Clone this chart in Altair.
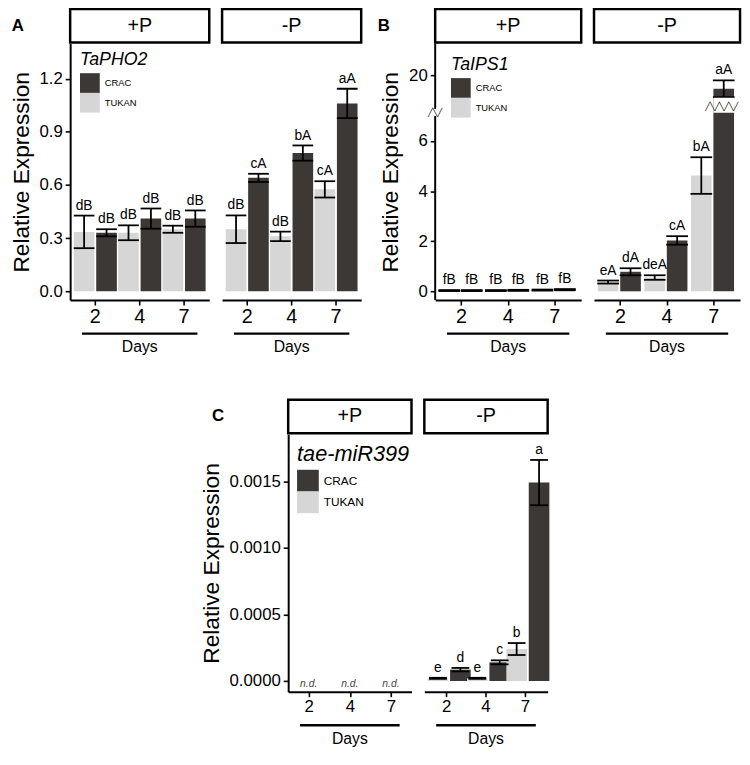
import altair as alt
import pandas as pd

FONT = "Liberation Sans"
DARK = "#3b3835"
LIGHT = "#d6d6d6"

# ---------------- data ----------------
days = ["2", "4", "7"]
day_seq = ["2", "2", "4", "4", "7", "7"]
cult_seq = ["TUKAN", "CRAC", "TUKAN", "CRAC", "TUKAN", "CRAC"]
cultivars = ["CRAC", "TUKAN"]

# A: TaPHO2
a_plus_mean = [0.335, 0.33, 0.33, 0.41, 0.35, 0.41]
a_plus_se = [0.092, 0.02, 0.042, 0.057, 0.02, 0.046]
a_plus_lab = ["dB", "dB", "dB", "dB", "dB", "dB"]
a_minus_mean = [0.35, 0.64, 0.31, 0.78, 0.575, 1.06]
a_minus_se = [0.078, 0.023, 0.027, 0.043, 0.046, 0.083]
a_minus_lab = ["dB", "cA", "dB", "bA", "cA", "aA"]

# B: TaIPS1
b_plus_mean = [0.03, 0.03, 0.03, 0.04, 0.05, 0.07]
b_plus_se = [0.02, 0.02, 0.02, 0.02, 0.02, 0.02]
b_plus_lab = ["fB", "fB", "fB", "fB", "fB", "fB"]
b_minus_mean = [0.37, 0.78, 0.55, 2.03, 4.62, 17.3]
b_minus_se = [0.06, 0.14, 0.09, 0.17, 0.73, 1.7]
b_minus_lab = ["eA", "dA", "deA", "cA", "bA", "aA"]
b_ticks = [0, 2, 4, 6, 20]
b_domain = [-0.35, 7.13, 15.46, 26.46]   # broken axis: lower / upper segment
b_axis_lo = [-0.35, 9.2]
b_axis_hi = [7.0, 26.46]

# C: tae-miR399
c_plus_lab = ["n.d.", "n.d.", "n.d."]
c_plus_level = [0, 0, 0]
c_minus_mean = [0.00002, 0.000085, 0.00002, 0.00014, 0.00024, 0.00149]
c_minus_se = [0.000004, 0.000013, 0.000004, 0.000015, 0.000045, 0.00017]
c_minus_lab = ["e", "d", "e", "c", "b", "a"]


def frame(mean, se, lab):
    return pd.DataFrame({
        "day": day_seq, "cultivar": cult_seq, "mean": mean,
        "lo": [m - s for m, s in zip(mean, se)],
        "hi": [m + s for m, s in zip(mean, se)],
        "label": lab})


cscale = alt.Scale(domain=cultivars, range=[DARK, LIGHT])


def xaxis(size):
    return alt.Axis(title=None, labelAngle=0, labelFontSize=size, labelFont=FONT,
                    labelColor="black", domainColor="black", domainWidth=2,
                    tickColor="black", tickWidth=1.6, tickSize=5, labelPadding=2,
                    grid=False)


def yaxis(values, fmt, size, domain=True):
    return alt.Axis(title="Relative Expression", titleFontSize=23, titleFontWeight="normal",
                    titleFont=FONT, titleColor="black", titlePadding=6, values=values,
                    format=fmt, labelFontSize=size, labelFont=FONT, labelColor="black",
                    domain=domain, domainColor="black", domainWidth=2, tickColor="black",
                    tickWidth=1.6, tickSize=5, labelPadding=3, grid=False)


def legend(title, x, y, tsize, ssize, lsize):
    return alt.Legend(orient="none", legendX=x, legendY=y, title=title,
                      titleFontStyle="italic", titleFontWeight="normal", titleFontSize=tsize,
                      titleFont=FONT, titleColor="black", titlePadding=4,
                      symbolType="square", symbolSize=ssize, symbolStrokeWidth=0,
                      symbolOpacity=1, labelFontSize=lsize, labelFont=FONT,
                      labelColor="black", labelOffset=5, rowPadding=0, padding=0)


def panel(df, W, H, yscale, yax, cap, header, xsize, leg=None, letter=None, letter_x=-53,
          extra=None, nd=None):
    X = alt.X("day:N", scale=alt.Scale(domain=days, paddingInner=0, paddingOuter=0.067),
              axis=xaxis(xsize))
    XO = alt.XOffset("cultivar:N", scale=alt.Scale(domain=["TUKAN", "CRAC"],
                                                   paddingInner=0.08, paddingOuter=0.03))

    def Y(f):
        return alt.Y(f, type="quantitative", scale=yscale, axis=yax)

    layers = []
    if df is not None:
        base = alt.Chart(df)
        layers += [
            base.mark_bar().encode(
                x=X, xOffset=XO, y=Y("mean"),
                color=alt.Color("cultivar:N", scale=cscale, legend=leg)),
            base.mark_rule(color="black", strokeWidth=1.8).encode(
                x=X, xOffset=XO, y=Y("lo"), y2=alt.Y2("hi")),
            base.mark_tick(color="black", thickness=1.8, size=cap, opacity=1).encode(
                x=X, xOffset=XO, y=Y("lo")),
            base.mark_tick(color="black", thickness=1.8, size=cap, opacity=1).encode(
                x=X, xOffset=XO, y=Y("hi")),
            base.mark_text(fontSize=14, font=FONT, baseline="alphabetic", dy=-6,
                           color="black").encode(
                x=X, xOffset=XO, y=Y("hi"), text="label:N"),
        ]
    if nd is not None:
        layers.append(
            alt.Chart(nd).mark_text(fontSize=10.5, font=FONT, fontStyle="italic",
                                    color="#444444", baseline="middle", dy=3).encode(
                x=X, y=Y("level"), text="label:N"))
        layers.append(
            alt.Chart(pd.DataFrame({"cultivar": cultivars})).mark_bar(opacity=0).encode(
                x=alt.value(0), x2=alt.value(1), y=alt.value(0), y2=alt.value(1),
                color=alt.Color("cultivar:N", scale=cscale, legend=leg)))
    if extra is not None:
        layers += extra(X, XO, Y)

    hdr = pd.DataFrame({"cond": [header]})
    layers.append(alt.Chart(hdr).mark_rect(fill="white", stroke="black", strokeWidth=2.5).encode(
        x=alt.value(0), x2=alt.value(W), y=alt.value(-35), y2=alt.value(-1)))
    layers.append(alt.Chart(hdr).mark_text(fontSize=20, font=FONT, baseline="middle",
                                           color="black").encode(
        x=alt.value(W / 2), y=alt.value(-18), text="cond:N"))
    dd = pd.DataFrame({"t": ["Days"]})
    layers.append(alt.Chart(dd).mark_rule(strokeWidth=2.5, color="black").encode(
        x=alt.value(12), x2=alt.value(W - 12), y=alt.value(H + 34)))
    layers.append(alt.Chart(dd).mark_text(fontSize=16, font=FONT, baseline="middle",
                                          color="black").encode(
        x=alt.value(W / 2), y=alt.value(H + 48), text="t:N"))
    if letter is not None:
        layers.append(alt.Chart(pd.DataFrame({"t": [letter]})).mark_text(
            fontSize=17, font=FONT, fontWeight="bold", baseline="middle", color="black").encode(
            x=alt.value(letter_x), y=alt.value(-18), text="t:N"))
    return alt.layer(*layers).properties(width=W, height=H)


def ind(c):
    return c.resolve_scale(color="independent")


# ---------------- panel A ----------------
HA = 260
WA = 141
ysA = alt.Scale(domain=[-0.05, 1.398], nice=False, zero=False)
axA = yaxis([0, 0.3, 0.6, 0.9, 1.2], ".1f", 17)
Ap = panel(frame(a_plus_mean, a_plus_se, a_plus_lab), WA, HA, ysA, axA, 21, "+P", 20,
           leg=legend("TaPHO2", 10, 8, 18, 400, 9.5), letter="A", letter_x=-53)
Am = panel(frame(a_minus_mean, a_minus_se, a_minus_lab), WA, HA, ysA, None, 21, "-P", 20)

# ---------------- panel B ----------------
HB = 260
WB = 148
ysB = alt.Scale(domain=b_domain, range=[HB, 70, 55, 0], nice=False, zero=False)
axB = yaxis(b_ticks, "d", 17, domain=False)


def b_plus_extra(X, XO, Y):
    pieces = pd.DataFrame({"p0": b_axis_lo, "p1": b_axis_hi})
    zz = pd.DataFrame({"zm": [7.15], "zz": ["\u2571\u2572\u2571"]})
    return [
        alt.Chart(pieces).mark_rule(color="black", strokeWidth=2).encode(
            x=alt.value(0), y=Y("p0"), y2=alt.Y2("p1")),
        alt.Chart(zz).mark_text(font="DejaVu Sans Mono", fontSize=8, baseline="middle",
                                color="black").encode(
            x=alt.value(0), y=Y("zm"), text="zz:N"),
    ]


def b_minus_extra(X, XO, Y):
    gap = pd.DataFrame({"day": ["7"], "cultivar": ["CRAC"], "g0": [b_domain[1]],
                        "g1": [b_domain[2]], "gm": [10.36],
                        "zz": ["\u2571\u2572\u2571\u2572\u2571\u2572\u2571"]})
    return [
        alt.Chart(gap).mark_bar(color="white").encode(
            x=X, xOffset=XO, y=Y("g0"), y2=alt.Y2("g1")),
        alt.Chart(gap).mark_text(font="DejaVu Sans Mono", fontSize=8, baseline="middle",
                                 color="black", dx=-2).encode(
            x=X, xOffset=XO, y=Y("gm"), text="zz:N"),
    ]


Bp = panel(frame(b_plus_mean, b_plus_se, b_plus_lab), WB, HB, ysB, axB, 22, "+P", 20,
           leg=legend("TaIPS1", 16, 13, 18, 400, 9.5), letter="B", letter_x=-52,
           extra=b_plus_extra)
Bm = panel(frame(b_minus_mean, b_minus_se, b_minus_lab), WB, HB, ysB, None, 22, "-P", 20,
           extra=b_minus_extra)

# ---------------- panel C ----------------
HC = 261
WC = 125
ysC = alt.Scale(domain=[-0.0000809, 0.001853], nice=False, zero=False)
axC = yaxis([0, 0.0005, 0.001, 0.0015], ".4f", 17)
nd_df = pd.DataFrame({"day": days, "label": c_plus_lab, "level": c_plus_level})
Cp = panel(None, WC, HC, ysC, axC, 18, "+P", 17,
           leg=legend("tae-miR399", 9, 10, 22, 484, 12), letter="C", letter_x=-71, nd=nd_df)
Cm = panel(frame(c_minus_mean, c_minus_se, c_minus_lab), WC, HC, ysC, None, 18, "-P", 17)

SP = 122
spacer = alt.Chart(pd.DataFrame({"s": [0]})).mark_rule(opacity=0).encode(
    x=alt.value(0), x2=alt.value(SP), y=alt.value(0)).properties(width=SP, height=10)

PAD = {"left": 2, "top": -6, "right": 0, "bottom": 0}
row1 = ind(alt.hconcat(ind(alt.hconcat(Ap, Am, spacing=9)),
                       ind(alt.hconcat(Bp, Bm, spacing=9)), spacing=14))
row2 = ind(alt.hconcat(spacer, ind(alt.hconcat(Cp, Cm, spacing=9)), spacing=10))
chart = ind(alt.vconcat(row1, row2, spacing=43)).properties(padding=PAD, background="white")
chart = chart.configure(font=FONT).configure_view(stroke=None)

chart.save("out.html", embed_options={"renderer": "svg", "actions": False})
